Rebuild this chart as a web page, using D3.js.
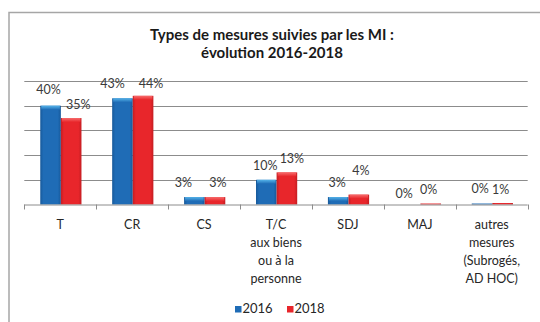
<!DOCTYPE html>
<html>
<head>
<meta charset="utf-8">
<script src="https://cdn.jsdelivr.net/npm/d3@7"></script>
<style>
  html, body { margin: 0; padding: 0; background: #ffffff; }
  svg { display: block; }
  text { font-family: Lato, "Open Sans", "Noto Sans", sans-serif; }
</style>
</head>
<body>
<svg id="chart" width="540" height="322"></svg>
<script>
// Categories (multi-line labels split on "\n")
const categories = ["T", "CR", "CS", "T/C\naux biens\nou à la\npersonne", "SDJ", "MAJ", "autres\nmesures\n(Subrogés,\nAD HOC)"];
const seriesNames = ["2016", "2018"];
// Share of measures (%) per category
const values2016 = [40, 43, 3, 10, 3, 0, 0.4];
const values2018 = [35, 44, 3, 13, 4, 0.4, 0.6];
const gridTicks = [10, 20, 30, 40, 50];
const titleLines = ["Types de mesures suivies par les MI :", "évolution 2016-2018"];

// Label nudges [dx, dy] relative to the top-centre of each bar
const labelNudge2016 = [[-2, -12], [-10, -10], [-11, -10], [-1, -10], [-1, -10], [-6, -7], [-2, -11]];
const labelNudge2018 = [[7, -9], [8, -8], [3, -10], [5, -9], [2, -20], [-2, -10], [-2, -9]];

const colors = { "2016": { base: "#1f6cb6", edge: "#17599a", top: "#55b4ea" },
                 "2018": { base: "#e8262b", edge: "#c41d22", top: "#f76d6d" } };

const svg = d3.select("#chart");
const defs = svg.append("defs");
seriesNames.forEach(s => {
  const g = defs.append("linearGradient").attr("id", "side-" + s)
    .attr("x1", 0).attr("x2", 1).attr("y1", 0).attr("y2", 0);
  g.append("stop").attr("offset", "0%").attr("stop-color", colors[s].edge);
  g.append("stop").attr("offset", "15%").attr("stop-color", colors[s].base);
  g.append("stop").attr("offset", "85%").attr("stop-color", colors[s].base);
  g.append("stop").attr("offset", "100%").attr("stop-color", colors[s].edge);
  const t = defs.append("linearGradient").attr("id", "top-" + s)
    .attr("x1", 0).attr("x2", 0).attr("y1", 0).attr("y2", 1);
  t.append("stop").attr("offset", "0%").attr("stop-color", colors[s].top);
  t.append("stop").attr("offset", "100%").attr("stop-color", colors[s].base);
});

// Outer frame
svg.append("rect").attr("x", 9).attr("y", 12.5).attr("width", 560).attr("height", 340)
  .attr("fill", "none").attr("stroke", "#a6a6a6").attr("stroke-width", 1.5);

// Title
const title = svg.append("text").attr("text-anchor", "middle")
  .attr("font-weight", "bold").attr("font-size", 15).attr("fill", "#1a1a1a");
titleLines.forEach((l, i) => {
  title.append("tspan").attr("x", 272).attr("y", 39.5 + i * 18.5).text(l);
});

const plot = { left: 24.3, right: 527.7, top: 81, bottom: 204.5 };

const x = d3.scaleBand().domain(categories).range([plot.left, plot.right]).padding(0);
const groupWidth = 41.2;
const x1 = d3.scaleBand().domain(seriesNames).range([0, groupWidth]).padding(0);
const groupOffset = (x.bandwidth() - groupWidth) / 2 + 0.6;
const y = d3.scaleLinear().domain([0, 50]).range([plot.bottom, plot.top]);

// Gridlines
svg.append("g").selectAll("line").data(gridTicks).join("line")
  .attr("x1", plot.left).attr("x2", plot.right)
  .attr("y1", d => Math.round(y(d)) + 0.5).attr("y2", d => Math.round(y(d)) + 0.5)
  .attr("stroke", "#8c8c8c").attr("stroke-width", 1);

// Bars
const rows = categories.map((c, i) => ({ cat: c, i, vals: [
  { s: "2016", v: values2016[i], nudge: labelNudge2016[i] },
  { s: "2018", v: values2018[i], nudge: labelNudge2018[i] }] }));

const groups = svg.append("g").selectAll("g").data(rows).join("g")
  .attr("transform", d => `translate(${x(d.cat) + groupOffset},0)`);

groups.selectAll("rect.bar").data(d => d.vals).join("rect").attr("class", "bar")
  .attr("x", d => x1(d.s)).attr("width", x1.bandwidth())
  .attr("y", d => y(d.v)).attr("height", d => y(0) - y(d.v))
  .attr("fill", d => `url(#side-${d.s})`);

// Bevelled top highlight
groups.selectAll("rect.cap").data(d => d.vals.filter(v => y(0) - y(v.v) > 2)).join("rect").attr("class", "cap")
  .attr("x", d => x1(d.s) + 1).attr("width", x1.bandwidth() - 2)
  .attr("y", d => y(d.v)).attr("height", d => Math.min(4, y(0) - y(d.v)))
  .attr("fill", d => `url(#top-${d.s})`);

// Value labels
groups.selectAll("text.val").data(d => d.vals).join("text").attr("class", "val")
  .attr("x", d => x1(d.s) + x1.bandwidth() / 2 + d.nudge[0])
  .attr("y", d => y(d.v) + d.nudge[1])
  .attr("text-anchor", "middle").attr("font-size", 12.5).attr("fill", "#3a3a3a")
  .text(d => Math.round(d.v) + "%");

// Category axis
const axis = svg.append("g").attr("transform", `translate(0,${plot.bottom})`)
  .call(d3.axisBottom(x).tickSize(0).tickPadding(0));
axis.select(".domain").attr("stroke", "#8c8c8c").attr("d", `M${plot.left},0.5H${plot.right}`);
axis.selectAll(".tick text").each(function(d) {
  const t = d3.select(this).text(null).attr("y", 0).attr("dy", null)
    .attr("font-size", 12.5).attr("fill", "#262626").attr("font-family", null);
  d.split("\n").forEach((line, k) => {
    t.append("tspan").attr("x", 0).attr("y", 24 + k * 18).text(line);
  });
});
// Tick marks at category boundaries
const boundaries = categories.map(c => x(c)).concat([plot.right]);
axis.append("g").selectAll("line").data(boundaries).join("line")
  .attr("x1", d => Math.round(d) + 0.5).attr("x2", d => Math.round(d) + 0.5)
  .attr("y1", 0).attr("y2", 5).attr("stroke", "#8c8c8c");

// Legend
const legend = svg.append("g").attr("transform", "translate(235,313)");
seriesNames.forEach((s, i) => {
  const g = legend.append("g").attr("transform", `translate(${i * 52},0)`);
  g.append("rect").attr("x", 0).attr("y", -7).attr("width", 6.5).attr("height", 6.5)
    .attr("fill", colors[s].base);
  g.append("text").attr("x", 7.5).attr("y", 0).attr("font-size", 13).attr("fill", "#262626").text(s);
});
</script>
</body>
</html>
